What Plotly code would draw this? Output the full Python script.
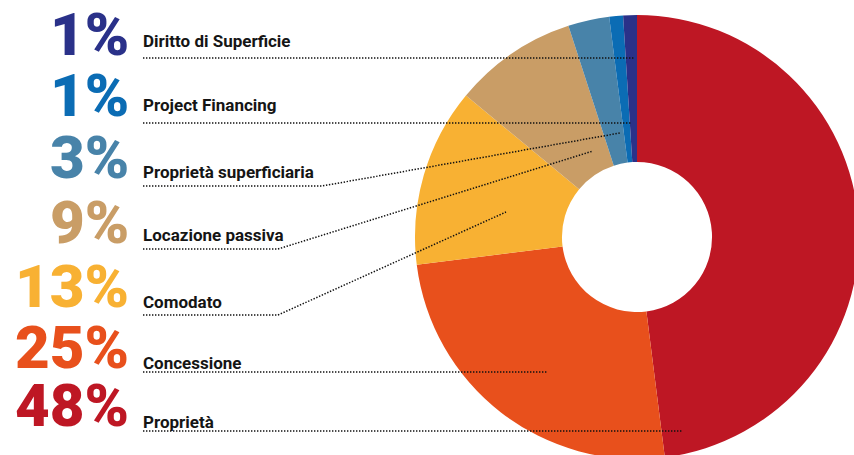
import plotly.graph_objects as go

# ---------------- data ----------------
categories = ["Proprietà", "Concessione", "Comodato", "Locazione passiva",
              "Proprietà superficiaria", "Project Financing", "Diritto di Superficie"]
# percentage shares (clockwise from 12 o'clock)
shares = [48, 25, 13, 9, 3, 1, 1]
colors = ["#BE1724", "#E8501C", "#F8B133", "#C99D66", "#4883A9", "#0B6CB4", "#2A3189"]

# ---------------- layout geometry (pixels) ----------------
W, H = 860, 460
pie_left, pie_top, pie_size = 415, 15, 444
hole_frac = 0.338
pct_right_x = 131
label_left_x = 141
pct_mid_y = [405.5, 347.5, 286.5, 222.5, 157.5, 95, 34.5]
label_mid_y = [422, 362.5, 302, 234.5, 172, 105, 41.5]
leader_paths = [
    [(143, 431), (683, 431)],
    [(143, 372), (548, 372)],
    [(143, 315), (278, 315), (506, 212)],
    [(143, 249), (278, 249), (593, 151)],
    [(143, 186), (322, 186), (620, 133)],
    [(143, 123), (632, 123)],
    [(143, 58), (635, 58)],
]


def px(x):
    return x / W


def py(y):
    return 1 - y / H


fig = go.Figure()
fig.add_trace(go.Pie(
    labels=categories,
    values=shares,
    sort=False,
    direction="clockwise",
    rotation=0,
    hole=hole_frac,
    marker=dict(colors=colors, line=dict(width=0)),
    textinfo="none",
    hoverinfo="label+percent",
    showlegend=False,
    domain=dict(x=[px(pie_left), px(pie_left + pie_size)],
                y=[py(pie_top + pie_size), py(pie_top)]),
))

annotations = []
for i, cat in enumerate(categories):
    annotations.append(dict(
        x=px(pct_right_x), y=py(pct_mid_y[i]), xref="paper", yref="paper",
        xanchor="right", yanchor="middle", showarrow=False,
        text=f"{shares[i]}%",
        font=dict(family="Roboto", size=60, color=colors[i], weight=900),
    ))
    annotations.append(dict(
        x=px(label_left_x), y=py(label_mid_y[i]), xref="paper", yref="paper",
        xanchor="left", yanchor="middle", showarrow=False,
        text=cat,
        font=dict(family="Roboto", size=17, color="#151515", weight=700),
    ))

shapes = []
for pts in leader_paths:
    path = "M " + " L ".join(f"{px(x):.5f},{py(y):.5f}" for x, y in pts)
    shapes.append(dict(
        type="path", xref="paper", yref="paper", path=path,
        line=dict(color="#111111", width=1.5, dash="1.4px,1.6px"),
        layer="above",
    ))

fig.update_layout(
    width=W, height=H,
    margin=dict(l=0, r=0, t=0, b=0),
    paper_bgcolor="white", plot_bgcolor="white",
    annotations=annotations,
    shapes=shapes,
    showlegend=False,
)

fig.write_html(
    "out.html",
    post_script="document.body.style.margin='0';document.body.style.overflow='hidden';",
    config={"displayModeBar": False},
)
